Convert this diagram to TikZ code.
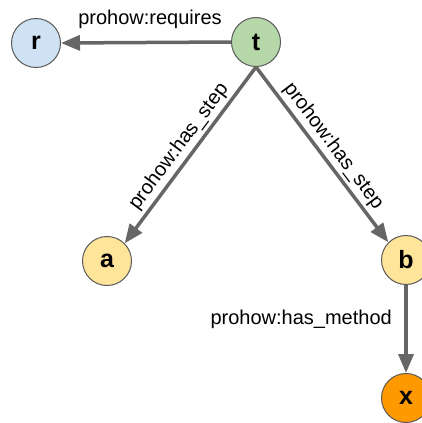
\documentclass[tikz,border=0pt]{standalone}
\usepackage{fontspec}
\setmainfont{Liberation Sans}
\usetikzlibrary{arrows.meta}
\definecolor{edgegray}{HTML}{666666}
\definecolor{rimgray}{HTML}{595959}
\definecolor{reqblue}{HTML}{CFE2F3}
\definecolor{taskgreen}{HTML}{B6D7A8}
\definecolor{stepyellow}{HTML}{FFE599}
\definecolor{methorange}{HTML}{FF9900}
\begin{document}
\begin{tikzpicture}[x=1pt,y=-1pt,
  entity/.style={circle,draw=rimgray,line width=1pt,minimum size=49pt,inner sep=0pt,
    font=\fontsize{25}{25}\selectfont\bfseries},
  rel/.style={draw=edgegray,line width=3.5pt,
    -{Triangle[length=19pt,width=15pt]}},
  lbl/.style={font=\fontsize{20}{20}\selectfont,inner sep=0pt}]
  \useasboundingbox (0,0) rectangle (422,423);
  \node[entity,fill=reqblue] (r) at (36,43) {r};
  \node[entity,fill=taskgreen] (t) at (256,42) {t};
  \node[entity,fill=stepyellow] (a) at (107,261) {a};
  \node[entity,fill=stepyellow] (b) at (406,260) {b};
  \node[entity,fill=methorange] (x) at (406,398) {x};
  \draw[rel] (t.west) -- (r.east);
  \draw[rel] (t.south) -- node[lbl,midway,sloped,above=3pt] (lstepa) {prohow:has\_step} (a.north east);
  \draw[rel] (t.south) -- node[lbl,midway,sloped,above=3pt] (lstepb) {prohow:has\_step} (b.north west);
  \draw[rel] (b.south) -- (x.north);
  \node[lbl] (lreq) at (150,19) {prohow:requires};
  \node[lbl,anchor=east] (lmeth) at (392,319) {prohow:has\_method};
\end{tikzpicture}
\end{document}
